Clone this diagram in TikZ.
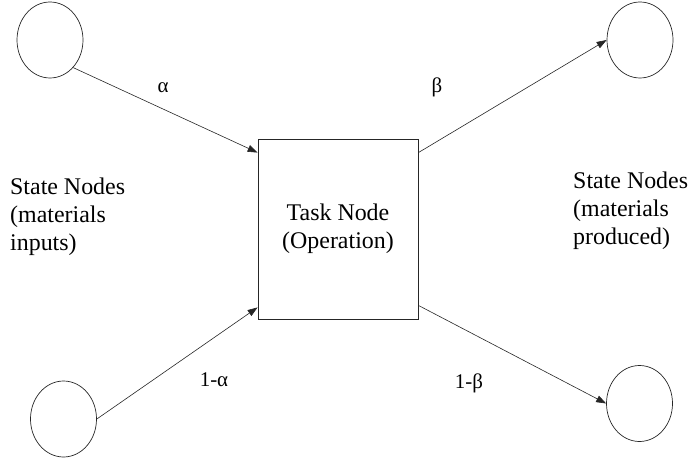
\documentclass[tikz,border=0pt]{standalone}
\usepackage{fontspec}
\setmainfont{Liberation Serif}
\usetikzlibrary{shapes.geometric,arrows.meta,calc}
\begin{document}
\begin{tikzpicture}[x=1bp,y=-1bp,
  statenode/.style={draw=black!85,line width=0.7bp,ellipse,inner sep=0pt,
    minimum width=66bp,minimum height=76bp},
  tasknode/.style={draw=black!85,line width=0.8bp,rectangle,inner sep=0pt,
    minimum width=160bp,minimum height=180bp,align=center,
    font=\fontsize{24}{28}\selectfont},
  flow/.style={draw=black!85,line width=0.6bp,
    -{Triangle[length=10bp,width=7bp]}},
  caption/.style={align=left,inner sep=0pt,anchor=north west,
    font=\fontsize{24}{28}\selectfont},
  ratio/.style={inner sep=0pt,font=\fontsize{21}{24}\selectfont}]
\useasboundingbox (0,0) rectangle (694,458);

% state and task nodes
\node[statenode] (inA) at (50,40) {};
\node[statenode] (inB) at (63.5,419) {};
\node[statenode] (outA) at (640,40) {};
\node[statenode] (outB) at (639.5,403.5) {};
\node[tasknode] (task) at (338,229) {Task Node\\(Operation)};

% material flows into and out of the task
\draw[flow] (inA.-50) -- ($(task.north west)+(0,14)$);
\draw[flow] (inB.east) -- ($(task.south west)+(0,-12)$);
\draw[flow] ($(task.north east)+(0,14)$) -- (outA.west);
\draw[flow] ($(task.south east)+(0,-14)$) -- (outB.west);

% fractions on the flows
\node[ratio] (la) at (163,88) {α};
\node[ratio] (lb) at (437,87) {β};
\node[ratio] (la1) at (214,380) {1-α};
\node[ratio] (lb1) at (469,383) {1-β};

% side captions
\node[caption] (capin) at (10,178) {State Nodes\\(materials\\inputs)};
\node[caption] (capout) at (573,172) {State Nodes\\(materials\\produced)};
\end{tikzpicture}
\end{document}
